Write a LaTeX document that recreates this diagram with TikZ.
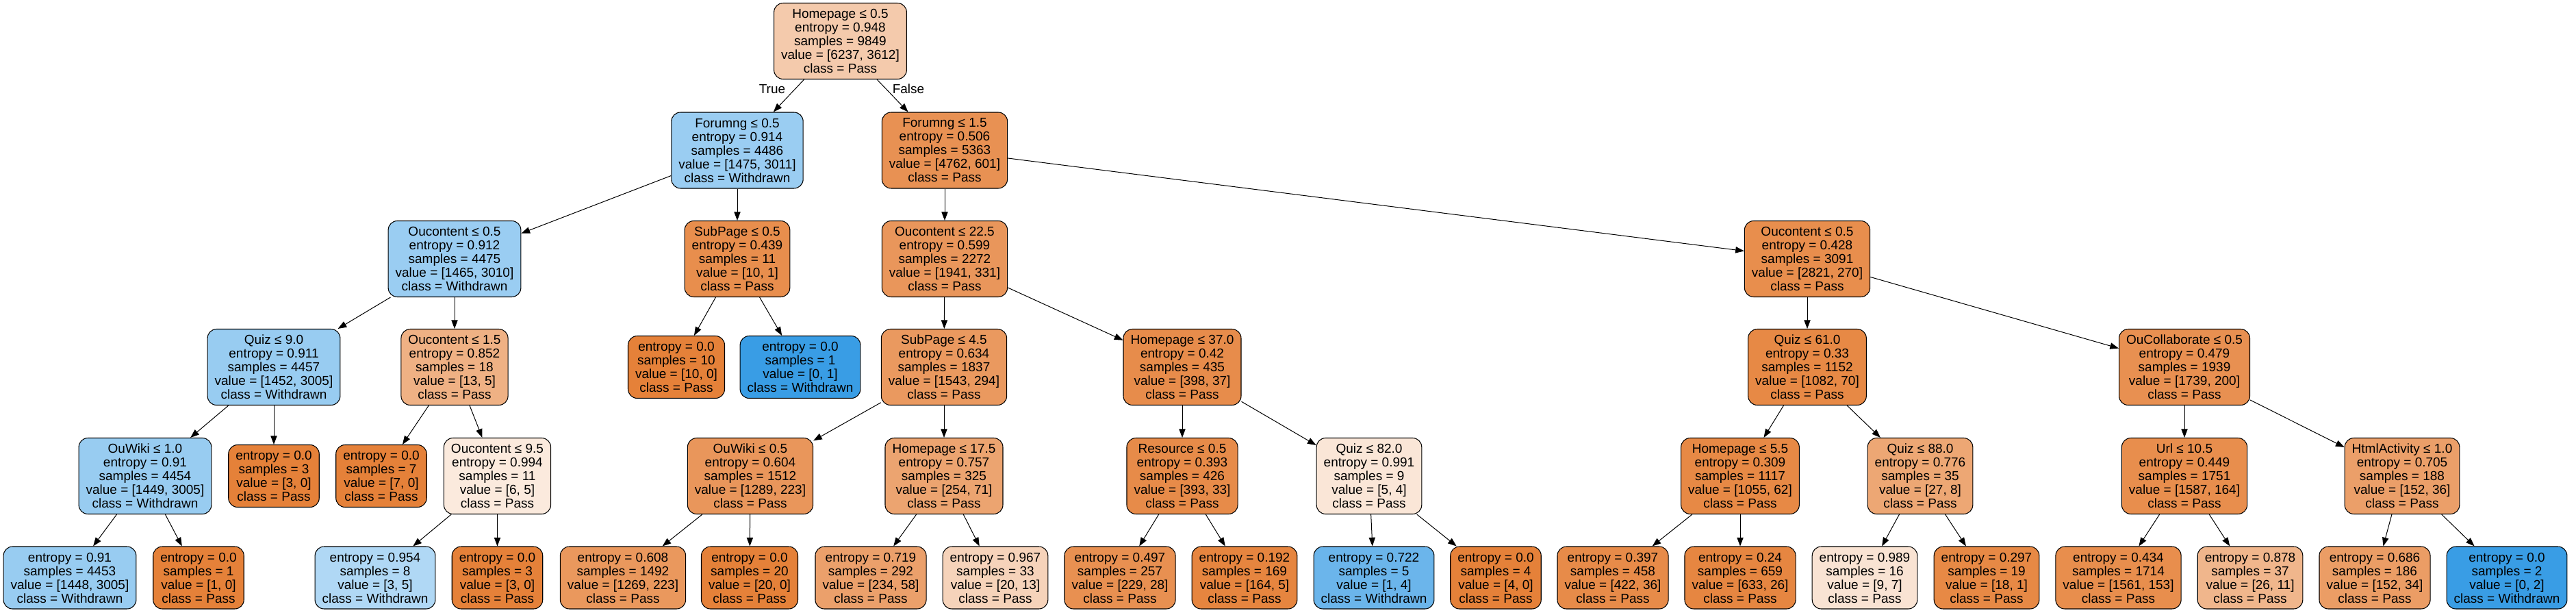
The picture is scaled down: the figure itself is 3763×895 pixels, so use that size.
\documentclass[tikz,border=0pt]{standalone}
\usepackage{fontspec}
\setmainfont{Liberation Sans}
\usetikzlibrary{arrows.meta}
\definecolor{pass}{RGB}{229,129,57}
\definecolor{wd}{RGB}{57,157,229}
\tikzset{
  tn/.style={draw=black, line width=0.8pt, rounded corners=10pt, align=center,
    inner xsep=7.9pt, inner ysep=1pt, minimum height=83.25pt,
    font=\fontsize{14.25}{15}\selectfont},
  tl/.style={tn, minimum height=68.25pt},
  edge/.style={line width=0.75pt, -{Triangle[length=9.5pt,width=7pt]}},
  lab/.style={font=\fontsize{14.25}{15}\selectfont, inner sep=0pt}
}
\begin{document}
\begin{tikzpicture}[x=0.75pt,y=-0.75pt]
\useasboundingbox (0,0) rectangle (3763,895);
\fill[white] (0,0) rectangle (3763,895);
% rank 0
\node[tn, fill=pass!42!white] (root) at (1227.5,60) {Homepage ≤ 0.5\\entropy = 0.948\\samples = 9849\\value = [6237, 3612]\\class = Pass};
% rank 1
\node[tn, fill=wd!51!white] (F05) at (1077,219.5) {Forumng ≤ 0.5\\entropy = 0.914\\samples = 4486\\value = [1475, 3011]\\class = Withdrawn};
\node[tn, fill=pass!87!white] (F15) at (1380,219.5) {Forumng ≤ 1.5\\entropy = 0.506\\samples = 5363\\value = [4762, 601]\\class = Pass};
% rank 2
\node[tn, fill=wd!51!white] (O05a) at (664,378) {Oucontent ≤ 0.5\\entropy = 0.912\\samples = 4475\\value = [1465, 3010]\\class = Withdrawn};
\node[tn, fill=pass!90!white] (SP05) at (1077,378) {SubPage ≤ 0.5\\entropy = 0.439\\samples = 11\\value = [10, 1]\\class = Pass};
\node[tn, fill=pass!83!white] (O225) at (1380,378) {Oucontent ≤ 22.5\\entropy = 0.599\\samples = 2272\\value = [1941, 331]\\class = Pass};
\node[tn, fill=pass!90!white] (O05b) at (2640,378) {Oucontent ≤ 0.5\\entropy = 0.428\\samples = 3091\\value = [2821, 270]\\class = Pass};
% rank 3
\node[tn, fill=wd!52!white] (Q9) at (400,536) {Quiz ≤ 9.0\\entropy = 0.911\\samples = 4457\\value = [1452, 3005]\\class = Withdrawn};
\node[tn, fill=pass!62!white] (O15) at (664,536) {Oucontent ≤ 1.5\\entropy = 0.852\\samples = 18\\value = [13, 5]\\class = Pass};
\node[tl, fill=pass] (l10) at (988,536) {entropy = 0.0\\samples = 10\\value = [10, 0]\\class = Pass};
\node[tl, fill=wd] (l1W) at (1169,536) {entropy = 0.0\\samples = 1\\value = [0, 1]\\class = Withdrawn};
\node[tn, fill=pass!81!white] (SP45) at (1379,536) {SubPage ≤ 4.5\\entropy = 0.634\\samples = 1837\\value = [1543, 294]\\class = Pass};
\node[tn, fill=pass!91!white] (H37) at (1727,536) {Homepage ≤ 37.0\\entropy = 0.42\\samples = 435\\value = [398, 37]\\class = Pass};
\node[tn, fill=pass!94!white] (Q61) at (2640,536) {Quiz ≤ 61.0\\entropy = 0.33\\samples = 1152\\value = [1082, 70]\\class = Pass};
\node[tn, fill=pass!88!white] (OC05) at (3191,536) {OuCollaborate ≤ 0.5\\entropy = 0.479\\samples = 1939\\value = [1739, 200]\\class = Pass};
% rank 4
\node[tn, fill=wd!52!white] (OW10) at (212,695) {OuWiki ≤ 1.0\\entropy = 0.91\\samples = 4454\\value = [1449, 3005]\\class = Withdrawn};
\node[tl, fill=pass] (l3a) at (400,695) {entropy = 0.0\\samples = 3\\value = [3, 0]\\class = Pass};
\node[tl, fill=pass] (l7) at (557,695) {entropy = 0.0\\samples = 7\\value = [7, 0]\\class = Pass};
\node[tn, fill=pass!17!white] (O95) at (726.5,695) {Oucontent ≤ 9.5\\entropy = 0.994\\samples = 11\\value = [6, 5]\\class = Pass};
\node[tn, fill=pass!83!white] (OW05) at (1096,695) {OuWiki ≤ 0.5\\entropy = 0.604\\samples = 1512\\value = [1289, 223]\\class = Pass};
\node[tn, fill=pass!72!white] (H175) at (1379,695) {Homepage ≤ 17.5\\entropy = 0.757\\samples = 325\\value = [254, 71]\\class = Pass};
\node[tn, fill=pass!92!white] (R05) at (1727,695) {Resource ≤ 0.5\\entropy = 0.393\\samples = 426\\value = [393, 33]\\class = Pass};
\node[tn, fill=pass!20!white] (Q82) at (2000,695) {Quiz ≤ 82.0\\entropy = 0.991\\samples = 9\\value = [5, 4]\\class = Pass};
\node[tn, fill=pass!94!white] (H55) at (2542,695) {Homepage ≤ 5.5\\entropy = 0.309\\samples = 1117\\value = [1055, 62]\\class = Pass};
\node[tn, fill=pass!70!white] (Q88) at (2805,695) {Quiz ≤ 88.0\\entropy = 0.776\\samples = 35\\value = [27, 8]\\class = Pass};
\node[tn, fill=pass!90!white] (U105) at (3191,695) {Url ≤ 10.5\\entropy = 0.449\\samples = 1751\\value = [1587, 164]\\class = Pass};
\node[tn, fill=pass!76!white] (HA10) at (3509,695) {HtmlActivity ≤ 1.0\\entropy = 0.705\\samples = 188\\value = [152, 36]\\class = Pass};
% rank 5
\node[tl, fill=wd!52!white] (l4453) at (102,843.5) {entropy = 0.91\\samples = 4453\\value = [1448, 3005]\\class = Withdrawn};
\node[tl, fill=pass] (l1) at (290,843.5) {entropy = 0.0\\samples = 1\\value = [1, 0]\\class = Pass};
\node[tl, fill=wd!40!white] (l8) at (548,843.5) {entropy = 0.954\\samples = 8\\value = [3, 5]\\class = Withdrawn};
\node[tl, fill=pass] (l3b) at (726.5,843.5) {entropy = 0.0\\samples = 3\\value = [3, 0]\\class = Pass};
\node[tl, fill=pass!82!white] (l1492) at (910,843.5) {entropy = 0.608\\samples = 1492\\value = [1269, 223]\\class = Pass};
\node[tl, fill=pass] (l20) at (1095,843.5) {entropy = 0.0\\samples = 20\\value = [20, 0]\\class = Pass};
\node[tl, fill=pass!75!white] (l292) at (1272,843.5) {entropy = 0.719\\samples = 292\\value = [234, 58]\\class = Pass};
\node[tl, fill=pass!35!white] (l33) at (1454,843.5) {entropy = 0.967\\samples = 33\\value = [20, 13]\\class = Pass};
\node[tl, fill=pass!88!white] (l257) at (1636,843.5) {entropy = 0.497\\samples = 257\\value = [229, 28]\\class = Pass};
\node[tl, fill=pass!97!white] (l169) at (1818,843.5) {entropy = 0.192\\samples = 169\\value = [164, 5]\\class = Pass};
\node[tl, fill=wd!75!white] (l5W) at (2007,843.5) {entropy = 0.722\\samples = 5\\value = [1, 4]\\class = Withdrawn};
\node[tl, fill=pass] (l4) at (2185,843.5) {entropy = 0.0\\samples = 4\\value = [4, 0]\\class = Pass};
\node[tl, fill=pass!92!white] (l458) at (2356,843.5) {entropy = 0.397\\samples = 458\\value = [422, 36]\\class = Pass};
\node[tl, fill=pass!96!white] (l659) at (2542,843.5) {entropy = 0.24\\samples = 659\\value = [633, 26]\\class = Pass};
\node[tl, fill=pass!22!white] (l16) at (2724,843.5) {entropy = 0.989\\samples = 16\\value = [9, 7]\\class = Pass};
\node[tl, fill=pass!94!white] (l19) at (2902,843.5) {entropy = 0.297\\samples = 19\\value = [18, 1]\\class = Pass};
\node[tl, fill=pass!90!white] (l1714) at (3094.5,843.5) {entropy = 0.434\\samples = 1714\\value = [1561, 153]\\class = Pass};
\node[tl, fill=pass!58!white] (l37) at (3287,843.5) {entropy = 0.878\\samples = 37\\value = [26, 11]\\class = Pass};
\node[tl, fill=pass!78!white] (l186) at (3469,843.5) {entropy = 0.686\\samples = 186\\value = [152, 34]\\class = Pass};
\node[tl, fill=wd] (l2W) at (3662,843.5) {entropy = 0.0\\samples = 2\\value = [0, 2]\\class = Withdrawn};
% edge labels
\node[lab] (tTrue) at (1128,130) {True};
\node[lab] (tFalse) at (1327,130) {False};
% edges
\draw[edge] (root) -- (F05);
\draw[edge] (root) -- (F15);
\draw[edge] (F05) -- (O05a);
\draw[edge] (F05) -- (SP05);
\draw[edge] (F15) -- (O225);
\draw[edge] (F15) -- (O05b);
\draw[edge] (O05a) -- (Q9);
\draw[edge] (O05a) -- (O15);
\draw[edge] (SP05) -- (l10);
\draw[edge] (SP05) -- (l1W);
\draw[edge] (O225) -- (SP45);
\draw[edge] (O225) -- (H37);
\draw[edge] (O05b) -- (Q61);
\draw[edge] (O05b) -- (OC05);
\draw[edge] (Q9) -- (OW10);
\draw[edge] (Q9) -- (l3a);
\draw[edge] (O15) -- (l7);
\draw[edge] (O15) -- (O95);
\draw[edge] (SP45) -- (OW05);
\draw[edge] (SP45) -- (H175);
\draw[edge] (H37) -- (R05);
\draw[edge] (H37) -- (Q82);
\draw[edge] (Q61) -- (H55);
\draw[edge] (Q61) -- (Q88);
\draw[edge] (OC05) -- (U105);
\draw[edge] (OC05) -- (HA10);
\draw[edge] (OW10) -- (l4453);
\draw[edge] (OW10) -- (l1);
\draw[edge] (O95) -- (l8);
\draw[edge] (O95) -- (l3b);
\draw[edge] (OW05) -- (l1492);
\draw[edge] (OW05) -- (l20);
\draw[edge] (H175) -- (l292);
\draw[edge] (H175) -- (l33);
\draw[edge] (R05) -- (l257);
\draw[edge] (R05) -- (l169);
\draw[edge] (Q82) -- (l5W);
\draw[edge] (Q82) -- (l4);
\draw[edge] (H55) -- (l458);
\draw[edge] (H55) -- (l659);
\draw[edge] (Q88) -- (l16);
\draw[edge] (Q88) -- (l19);
\draw[edge] (U105) -- (l1714);
\draw[edge] (U105) -- (l37);
\draw[edge] (HA10) -- (l186);
\draw[edge] (HA10) -- (l2W);
\end{tikzpicture}
\end{document}
